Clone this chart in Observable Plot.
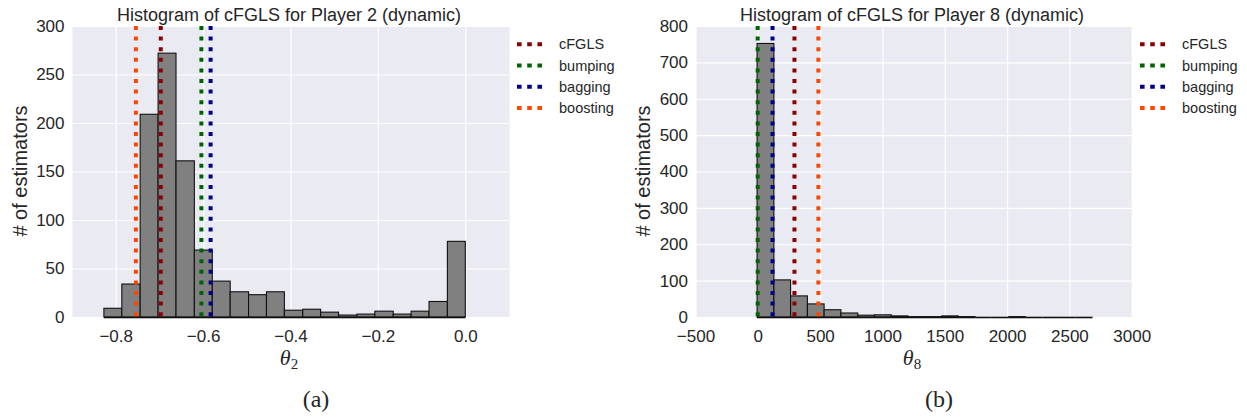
<!DOCTYPE html>
<html>
<head>
<meta charset="utf-8">
<script src="https://cdn.jsdelivr.net/npm/d3@7"></script>
<script src="https://cdn.jsdelivr.net/npm/@observablehq/plot@0.6"></script>
<style>
  body { margin: 0; background: #fff; }
  #wrap { position: relative; width: 1247px; height: 418px; overflow: hidden; font-family: "Liberation Sans", Arial, sans-serif; }
  .panel { position: absolute; top: 0; }
  #overlay { position: absolute; left: 0; top: 0; pointer-events: none; }
</style>
</head>
<body>
<div id="wrap">
  <div id="left" class="panel" style="left:0px"></div>
  <div id="right" class="panel" style="left:620px"></div>
</div>
<script>
// ---------- Data: Player 2 (panel a) ----------
const p2BinEdges = [-0.827, -0.786, -0.744, -0.703, -0.662, -0.620, -0.579, -0.538, -0.496, -0.455,
                    -0.414, -0.372, -0.331, -0.290, -0.248, -0.207, -0.165, -0.124, -0.083, -0.041, 0.000];
const p2Counts = [9, 34, 209, 272, 161, 69, 37, 26, 23, 26, 7, 8, 5, 2, 3, 6, 3, 6, 16, 78];
const p2XTicks = [-0.8, -0.6, -0.4, -0.2, 0.0];
const p2YTicks = [0, 50, 100, 150, 200, 250, 300];
const p2LineValues = [-0.698, -0.605, -0.584, -0.755];

// ---------- Data: Player 8 (panel b) ----------
const p8BinEdges = [-6, 129, 263, 398, 532, 667, 802, 936, 1071, 1205, 1340,
                    1475, 1609, 1744, 1878, 2013, 2148, 2282, 2417, 2551, 2686];
const p8Counts = [752, 102, 58, 36, 20, 11, 5, 6, 3, 1, 1, 3, 1, 0, 0, 1, 0, 0, 0, 0];
const p8XTicks = [-500, 0, 500, 1000, 1500, 2000, 2500, 3000];
const p8YTicks = [0, 100, 200, 300, 400, 500, 600, 700, 800];
const p8LineValues = [290, -5, 114, 482];

// ---------- Legend ----------
const methods = ["cFGLS", "bumping", "bagging", "boosting"];
const methodColors = ["#8B0000", "#006400", "#00008B", "#FF4500"];

const textColor = "#262626";

function histogram({edges, counts, lineValues, xDomain, xTicks, xFormat, yDomain, yTicks, width, marginLeft, marginRight}) {
  const bins = counts.map((c, i) => ({x1: edges[i], x2: edges[i + 1], count: c}));
  const lines = lineValues.map((v, i) => ({value: v, color: methodColors[i], name: methods[i]}));
  return Plot.plot({
    width,
    height: 345,
    marginLeft,
    marginRight,
    marginTop: 26,
    marginBottom: 28,
    style: {fontFamily: '"Liberation Sans", Arial, sans-serif', fontSize: "17px", color: textColor, background: "transparent", overflow: "visible"},
    x: {domain: xDomain, label: null},
    y: {domain: yDomain, label: null},
    color: {type: "identity"},
    marks: [
      Plot.frame({fill: "#EAEAF2", stroke: null}),
      Plot.gridX(xTicks, {stroke: "white", strokeOpacity: 1, strokeWidth: 1.2}),
      Plot.gridY(yTicks, {stroke: "white", strokeOpacity: 1, strokeWidth: 1.2}),
      Plot.rectY(bins, {x1: "x1", x2: "x2", y1: 0, y2: "count", fill: "#808080", stroke: "#111", strokeWidth: 1.1}),
      Plot.ruleY(bins, {y: 0, x1: "x1", x2: "x2", stroke: "#111", strokeWidth: 1.6}),
      Plot.ruleX(lines, {x: "value", stroke: "color", strokeWidth: 4, strokeDasharray: "4,6.6"}),
      Plot.axisX(xTicks, {tickSize: 0, tickPadding: 12, tickFormat: xFormat, fontSize: 17, label: null}),
      Plot.axisY(yTicks, {tickSize: 0, tickPadding: 8, fontSize: 17, label: null})
    ]
  });
}

document.getElementById("left").appendChild(histogram({
  edges: p2BinEdges, counts: p2Counts, lineValues: p2LineValues,
  xDomain: [-0.9, 0.1], xTicks: p2XTicks, xFormat: d3.format(".1f"),
  yDomain: [0, 300], yTicks: p2YTicks,
  width: 620, marginLeft: 72, marginRight: 111
}));

document.getElementById("right").appendChild(histogram({
  edges: p8BinEdges, counts: p8Counts, lineValues: p8LineValues,
  xDomain: [-500, 3000], xTicks: p8XTicks, xFormat: d3.format("d"),
  yDomain: [0, 800], yTicks: p8YTicks,
  width: 627, marginLeft: 75.5, marginRight: 115.3
}));

// ---------- Titles, axis labels, captions, legends ----------
const ns = "http://www.w3.org/2000/svg";
const overlay = document.createElementNS(ns, "svg");
overlay.setAttribute("id", "overlay");
overlay.setAttribute("width", 1247);
overlay.setAttribute("height", 418);
document.getElementById("wrap").appendChild(overlay);

function addText(parent, attrs, content) {
  const t = document.createElementNS(ns, "text");
  for (const k in attrs) t.setAttribute(k, attrs[k]);
  if (content !== undefined) t.textContent = content;
  parent.appendChild(t);
  return t;
}
const sans = '"Liberation Sans", Arial, sans-serif';
const serif = '"Liberation Serif", "DejaVu Serif", serif';

const panels = [
  {title: "Histogram of cFGLS for Player 2 (dynamic)", titleX: 289, ylabX: 20, thetaX: 289, sub: "2", cap: "(a)", capX: 316, legX: 517},
  {title: "Histogram of cFGLS for Player 8 (dynamic)", titleX: 912, ylabX: 643, thetaX: 912, sub: "8", cap: "(b)", capX: 939, legX: 1140}
];

for (const p of panels) {
  addText(overlay, {x: p.titleX, y: 21, "text-anchor": "middle", "font-family": sans, "font-size": 18, fill: textColor}, p.title);
  addText(overlay, {transform: `translate(${p.ylabX},171) rotate(-90)`, "text-anchor": "middle", "dominant-baseline": "central", "font-family": sans, "font-size": 20, fill: textColor}, "# of estimators");
  const th = addText(overlay, {x: p.thetaX, y: 365, "text-anchor": "middle", "font-family": serif, "font-size": 22, fill: textColor});
  const t1 = document.createElementNS(ns, "tspan");
  t1.setAttribute("font-style", "italic");
  t1.textContent = "θ";
  th.appendChild(t1);
  const t2 = document.createElementNS(ns, "tspan");
  t2.setAttribute("font-size", 15);
  t2.setAttribute("dy", 4);
  t2.textContent = p.sub;
  th.appendChild(t2);
  addText(overlay, {x: p.capX, y: 407, "text-anchor": "middle", "font-family": serif, "font-size": 24, fill: textColor}, p.cap);

  methods.forEach((m, i) => {
    const y = 44.3 + i * 21.2;
    const l = document.createElementNS(ns, "line");
    l.setAttribute("x1", p.legX);
    l.setAttribute("x2", p.legX + 28);
    l.setAttribute("y1", y);
    l.setAttribute("y2", y);
    l.setAttribute("stroke", methodColors[i]);
    l.setAttribute("stroke-width", 4);
    l.setAttribute("stroke-dasharray", "4.6,5.6");
    overlay.appendChild(l);
    addText(overlay, {x: p.legX + 42, y: y, "dominant-baseline": "central", "font-family": sans, "font-size": 14.5, fill: textColor}, m);
  });
}
</script>
</body>
</html>
